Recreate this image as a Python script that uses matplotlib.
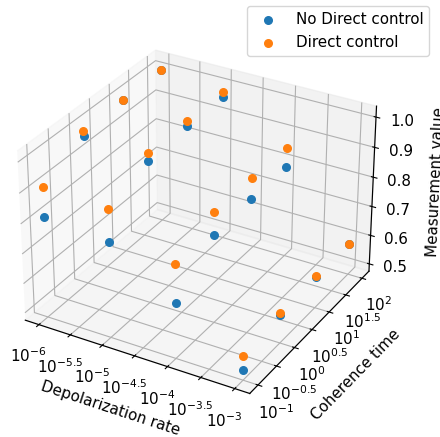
import numpy as np
import matplotlib
matplotlib.use('Agg')
import matplotlib.pyplot as plt

plt.rcParams['font.size'] = 10.9
plt.rcParams['axes.linewidth'] = 0.87

depol_rate = [-6, -5, -4, -3]
coherence = [-1, 0, 1, 2]

# rows are depolarization rate, columns coherence time
no_direct = [[0.813, 0.975, 0.995, 1.00],
             [0.795, 0.95, 0.965, 0.965],
             [0.66, 0.77, 0.78, 0.785],
             [0.51, 0.57, 0.58, 0.58]]
direct = [[0.91, 0.99, 0.995, 1.00],
          [0.90, 0.977, 0.98, 0.98],
          [0.79, 0.845, 0.85, 0.85],
          [0.555, 0.575, 0.585, 0.58]]

x_ticks = [-6, -5.5, -5, -4.5, -4, -3.5, -3]
x_labels = ['$10^{-6}$', '$10^{-5.5}$', '$10^{-5}$', '$10^{-4.5}$', '$10^{-4}$', '$10^{-3.5}$', '$10^{-3}$']
y_ticks = [-1, -0.5, 0, 0.5, 1, 1.5, 2]
y_labels = ['$10^{-1}$', '$10^{-0.5}$', '$10^{0}$', '$10^{0.5}$', '$10^{1}$', '$10^{1.5}$', '$10^{2}$']
z_ticks = [0.5, 0.6, 0.7, 0.8, 0.9, 1.0]

X, Y = np.meshgrid(depol_rate, coherence, indexing='ij')

fig = plt.figure(figsize=(4.4, 4.37), dpi=100)
ax = fig.add_axes([-0.011, 0.04, 0.908, 0.918], projection='3d')
ax.scatter(X.ravel(), Y.ravel(), np.array(no_direct).ravel(), s=30, label='No Direct control', depthshade=False)
ax.scatter(X.ravel(), Y.ravel(), np.array(direct).ravel(), s=30, label='Direct control', depthshade=False)

ax.set_xticks(x_ticks)
ax.set_xticklabels(x_labels)
ax.set_yticks(y_ticks)
ax.set_yticklabels(y_labels)
ax.set_zticks(z_ticks)
ax.set_xlabel('Depolarization rate', labelpad=6)
ax.set_ylabel('Coherence time', labelpad=8)
ax.set_zlabel('Measurement value', labelpad=7)
fig.legend(loc='upper right', bbox_to_anchor=(0.993, 1.003))

fig.savefig('out.png', dpi=100)
